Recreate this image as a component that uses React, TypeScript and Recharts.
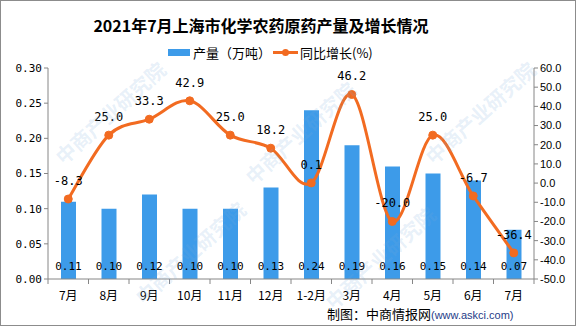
import React from "react";
import {
  ComposedChart,
  Bar,
  Line,
  XAxis,
  YAxis,
  LabelList,
} from "recharts";

const months = ["7月", "8月", "9月", "10月", "11月", "12月", "1-2月", "3月", "4月", "5月", "6月", "7月"];
const output = [0.11, 0.10, 0.12, 0.10, 0.10, 0.13, 0.24, 0.19, 0.16, 0.15, 0.14, 0.07];
const growth = [-8.3, 25.0, 33.3, 42.9, 25.0, 18.2, 0.1, 46.2, -20.0, 25.0, -6.7, -36.4];
const leftTicks = [0, 0.05, 0.1, 0.15, 0.2, 0.25, 0.3];
const rightTicks = [-50, -40, -30, -20, -10, 0, 10, 20, 30, 40, 50, 60];

const title = "2021年7月上海市化学农药原药产量及增长情况";
const legendBar = "产量（万吨）";
const legendLine = "同比增长(%)";

const data = months.map((m, i) => ({ m, output: output[i], growth: growth[i] }));

const W = 576;
const H = 326;
const PLOT_L = 48;
const PLOT_R = 534;
const PLOT_T = 68;
const PLOT_B = 279;
const BW = (PLOT_R - PLOT_L) / months.length;

const BLUE = "#3d9be9";
const ORANGE = "#f26b21";
const AXIS = "#868686";

// Excel-like smooth curve (Catmull-Rom, uniform)
function smoothCurve(context: any) {
  let pts: [number, number][] = [];
  return {
    areaStart() {},
    areaEnd() {},
    lineStart() {
      pts = [];
    },
    point(x: number, y: number) {
      pts.push([+x, +y]);
    },
    lineEnd() {
      const n = pts.length;
      if (!n) return;
      context.moveTo(pts[0][0], pts[0][1]);
      for (let i = 0; i < n - 1; i++) {
        const p0 = pts[i - 1] || pts[i];
        const p1 = pts[i];
        const p2 = pts[i + 1];
        const p3 = pts[i + 2] || pts[i + 1];
        const c1x = p1[0] + (p2[0] - p0[0]) / 6;
        const c1y = p1[1] + (p2[1] - p0[1]) / 6;
        const c2x = p2[0] - (p3[0] - p1[0]) / 6;
        const c2y = p2[1] - (p3[1] - p1[1]) / 6;
        context.bezierCurveTo(c1x, c1y, c2x, c2y, p2[0], p2[1]);
      }
    },
  };
}

const XTick = (props: any) => {
  const { x, payload, index } = props;
  return (
    <g>
      <line x1={x - BW / 2} x2={x - BW / 2} y1={PLOT_B} y2={PLOT_B + 5} stroke={AXIS} />
      {index === months.length - 1 && (
        <line x1={x + BW / 2} x2={x + BW / 2} y1={PLOT_B} y2={PLOT_B + 5} stroke={AXIS} />
      )}
      <text
        x={x}
        y={PLOT_B + 21}
        textAnchor="middle"
        fontSize={12}
        fontFamily="'Noto Sans CJK SC', sans-serif"
        fill="#000"
      >
        {payload.value}
      </text>
    </g>
  );
};

const BarLabel = (props: any) => {
  const { x, y, width, height, value } = props;
  return (
    <text
      x={x + width / 2}
      y={y + height - 9}
      textAnchor="middle"
      fontSize={11}
      fontFamily="'DejaVu Sans Mono', monospace"
      fill="#000"
    >
      {Number(value).toFixed(2)}
    </text>
  );
};

const LineLabel = (props: any) => {
  const { x, y, value } = props;
  return (
    <text
      x={x}
      y={y - 14}
      textAnchor="middle"
      fontSize={12}
      fontFamily="'DejaVu Sans Mono', monospace"
      fill="#000"
    >
      {Number(value).toFixed(1)}
    </text>
  );
};

const watermarkSpots = [
  [110, 110],
  [300, 130],
  [480, 110],
  [190, 250],
  [380, 255],
];

export default function App() {
  return (
    <div style={{ position: "fixed", left: 0, top: 0, width: W, height: H, background: "#fff" }}>
      <ComposedChart
        width={W}
        height={H}
        data={data}
        margin={{ top: PLOT_T, right: 0, bottom: 0, left: 0 }}
      >
        <XAxis
          dataKey="m"
          height={H - PLOT_B}
          tickLine={false}
          axisLine={{ stroke: AXIS }}
          tick={<XTick />}
          interval={0}
        />
        <YAxis
          yAxisId="left"
          width={PLOT_L}
          domain={[0, 0.3]}
          ticks={leftTicks}
          tickFormatter={(v: number) => v.toFixed(2)}
          axisLine={{ stroke: AXIS }}
          tickLine={{ stroke: AXIS }}
          tickSize={4}
          tick={{ fontSize: 11, fill: "#000", fontFamily: "'DejaVu Sans Mono', monospace" }}
          interval={0}
        />
        <YAxis
          yAxisId="right"
          orientation="right"
          width={W - PLOT_R}
          domain={[-50, 60]}
          ticks={rightTicks}
          tickFormatter={(v: number) => v.toFixed(1)}
          axisLine={{ stroke: AXIS }}
          tickLine={{ stroke: AXIS }}
          tickSize={4}
          tick={{ fontSize: 11, fill: "#000", fontFamily: "'Liberation Sans', sans-serif", textAnchor: "start" }}
          interval={0}
        />
        <Bar yAxisId="left" dataKey="output" fill={BLUE} barSize={15} isAnimationActive={false}>
          <LabelList dataKey="output" content={<BarLabel />} />
        </Bar>
        <Line
          yAxisId="right"
          dataKey="growth"
          type={smoothCurve as any}
          stroke={ORANGE}
          strokeWidth={3}
          dot={{ r: 4, fill: ORANGE, stroke: ORANGE, strokeWidth: 1 }}
          isAnimationActive={false}
        >
          <LabelList dataKey="growth" content={<LineLabel />} />
        </Line>
      </ComposedChart>

      {/* title */}
      <div
        style={{
          position: "absolute",
          left: 0,
          top: 14,
          width: 522,
          textAlign: "center",
          fontSize: 16,
          fontWeight: "bold",
          fontFamily: "'Noto Sans CJK SC', sans-serif",
          lineHeight: "22px",
          color: "#000",
        }}
      >
        {title}
      </div>

      {/* legend */}
      <div style={{ position: "absolute", left: 168, top: 49, width: 22, height: 7, background: BLUE }} />
      <div
        style={{
          position: "absolute",
          left: 193,
          top: 44,
          fontSize: 13,
          fontFamily: "'Noto Sans CJK SC', sans-serif",
          lineHeight: "18px",
          color: "#000",
        }}
      >
        {legendBar}
      </div>
      <div style={{ position: "absolute", left: 273, top: 51, width: 25, height: 3, background: ORANGE }} />
      <div
        style={{ position: "absolute", left: 282, top: 49, width: 7, height: 7, borderRadius: 4, background: ORANGE }}
      />
      <div
        style={{
          position: "absolute",
          left: 300,
          top: 44,
          fontSize: 13,
          fontFamily: "'Noto Sans CJK SC', sans-serif",
          lineHeight: "18px",
          color: "#000",
        }}
      >
        {legendLine}
      </div>

      {/* source */}
      <div
        style={{
          position: "absolute",
          left: 327,
          top: 305,
          fontSize: 13,
          fontFamily: "'Noto Sans CJK SC', sans-serif",
          lineHeight: "18px",
          color: "#000",
          whiteSpace: "nowrap",
        }}
      >
        制图：中商情报网
        <span style={{ fontSize: 11, color: "#1f3c88", fontFamily: "'Liberation Sans', sans-serif" }}>
          (www.askci.com)
        </span>
      </div>

      {/* watermarks */}
      {watermarkSpots.map(([x, y], i) => (
        <div
          key={i}
          style={{
            position: "absolute",
            left: x - 70,
            top: y - 12,
            width: 140,
            textAlign: "center",
            transform: "rotate(-42deg)",
            fontSize: 20,
            fontWeight: "bold",
            fontFamily: "'Noto Sans CJK SC', sans-serif",
            color: "rgba(120,170,220,0.18)",
            pointerEvents: "none",
            whiteSpace: "nowrap",
          }}
        >
          中商产业研究院
        </div>
      ))}

      {/* border */}
      <div
        style={{
          position: "absolute",
          left: 0,
          top: 0,
          width: W - 2,
          height: H - 2,
          border: "1px solid #8c8c8c",
          pointerEvents: "none",
        }}
      />
    </div>
  );
}
